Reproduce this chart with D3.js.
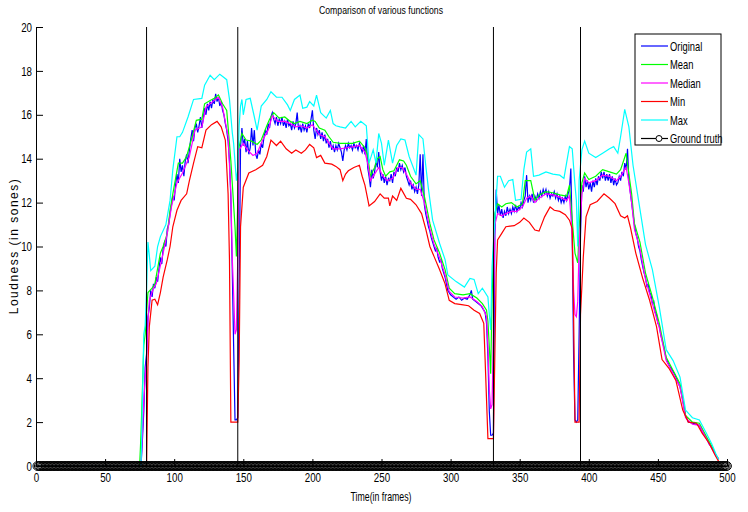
<!DOCTYPE html>
<html>
<head>
<meta charset="utf-8">
<script src="https://cdn.jsdelivr.net/npm/d3@7"></script>
<style>
body { margin: 0; background: #fff; }
svg text { font-family: "Liberation Sans Narrow", "Liberation Sans", Arial, sans-serif; fill: #000; }
</style>
</head>
<body>
<svg width="748" height="512"></svg>
<script>
// ticks
const frameTicks = [0, 50, 100, 150, 200, 250, 300, 350, 400, 450, 500];
const loudTicks = [0, 2, 4, 6, 8, 10, 12, 14, 16, 18, 20];

// boundaries of the ground truth (frames)
const groundTruthFrames = [80, 146, 331, 394];
const totalFrames = 500;

// series, [frame, loudness]
const original = [[1,0],[76,0],[77,1.2],[78,2.5],[79,4.5],[80,5.1],[81,6.8],[82,7.2],[83,8.0],[84,7.7],[85,8.3],[86,8.1],[87,8.6],[88,8.4],[89,9.0],[90,9.5],[91,9.2],[92,9.9],[93,10.2],[94,10.0],[95,10.8],[96,11.0],[97,11.5],[98,11.9],[99,12.3],[100,12.1],[101,12.8],[102,13.3],[103,12.9],[104,14.0],[105,13.4],[106,13.7],[107,13.2],[108,13.9],[109,14.2],[110,13.8],[111,14.4],[112,14.9],[113,15.3],[114,14.8],[115,15.4],[116,15.6],[117,15.2],[118,15.5],[119,15.9],[120,15.4],[121,15.8],[122,16.3],[123,16.0],[124,16.5],[125,16.2],[126,16.6],[127,16.3],[128,16.7],[129,16.5],[130,16.95],[131,16.6],[132,16.8],[133,16.4],[134,16.6],[135,16.2],[136,16.0],[137,15.6],[138,15.3],[139,14.8],[140,13.9],[141,12.2],[142,9.0],[143,5.5],[144,2.1],[145,2.1],[146,2.2],[147,8],[148,14.5],[149,15.4],[150,14.6],[151,14.9],[152,14.3],[153,14.8],[154,14.2],[155,14.5],[156,15.4],[157,14.6],[158,15.3],[159,14.2],[160,14.0],[161,14.4],[162,14.2],[163,14.7],[164,14.5],[165,15.0],[166,15.3],[167,15.1],[168,15.6],[169,15.4],[170,15.9],[171,16.1],[172,15.8],[173,15.6],[174,15.9],[175,15.5],[176,15.8],[177,15.6],[178,15.9],[179,15.5],[180,15.7],[181,15.4],[182,15.8],[183,15.5],[184,15.6],[185,15.3],[186,15.7],[187,15.4],[188,15.6],[189,16.1],[190,15.3],[191,15.5],[192,15.2],[193,15.6],[194,15.3],[195,15.5],[196,15.2],[197,15.6],[198,15.4],[199,15.8],[200,16.2],[201,15.3],[202,14.9],[203,15.4],[204,15.1],[205,15.3],[206,14.9],[207,15.2],[208,14.8],[209,15.1],[210,14.7],[211,14.9],[212,14.5],[213,14.8],[214,14.4],[215,14.6],[216,14.3],[217,14.6],[218,14.4],[219,14.7],[220,14.5],[221,14.3],[222,13.9],[223,14.4],[224,14.6],[225,14.4],[226,14.7],[227,14.5],[228,14.6],[229,14.4],[230,14.7],[231,14.5],[232,14.6],[233,14.4],[234,14.7],[235,14.5],[236,14.3],[237,14.6],[238,14.2],[239,14.9],[240,13.6],[241,13.2],[242,12.7],[243,13.5],[244,13.1],[245,13.4],[246,13.9],[247,13.6],[248,14.3],[249,13.4],[250,13.0],[251,13.3],[252,12.9],[253,13.2],[254,12.8],[255,13.1],[256,13.0],[257,13.3],[258,12.9],[259,13.4],[260,13.2],[261,13.6],[262,13.4],[263,13.8],[264,13.5],[265,13.7],[266,13.4],[267,13.6],[268,13.2],[269,13.0],[270,12.8],[271,13.0],[272,12.6],[273,12.8],[274,12.5],[275,12.7],[276,12.4],[277,12.8],[278,14.2],[279,12.3],[280,14.2],[281,11.9],[282,11.5],[283,11.2],[284,10.9],[285,10.7],[286,10.4],[287,10.2],[288,10.0],[289,9.8],[290,9.9],[291,9.5],[292,9.3],[293,9.4],[294,9.0],[295,8.8],[296,8.6],[297,8.3],[298,8.0],[299,7.9],[300,7.8],[302,7.7],[304,7.6],[306,7.7],[308,7.55],[310,7.65],[312,7.6],[314,7.8],[315,8.0],[316,7.6],[318,7.5],[320,7.4],[322,7.3],[324,7.1],[325,7.0],[326,6.5],[327,5.0],[328,2.5],[329,1.4],[330,1.4],[331,1.5],[332,10.5],[333,12.6],[334,11.5],[335,11.9],[336,11.4],[337,11.7],[338,11.3],[339,11.6],[340,11.4],[341,11.8],[342,11.5],[343,11.7],[344,11.5],[345,11.8],[346,11.6],[347,11.9],[348,11.6],[349,11.8],[350,11.7],[351,12.0],[352,11.8],[353,12.1],[354,12.3],[355,13.25],[356,12.0],[357,12.3],[358,12.1],[359,12.4],[360,12.0],[361,12.3],[362,12.1],[363,12.4],[364,12.2],[365,12.5],[366,12.3],[367,12.6],[368,12.4],[369,12.6],[370,12.3],[371,12.5],[372,12.2],[373,12.4],[374,12.3],[375,12.5],[376,12.2],[377,12.4],[378,12.1],[379,12.3],[380,12.0],[381,12.2],[382,12.0],[383,12.3],[384,12.1],[385,12.4],[386,12.6],[387,13.55],[388,10.5],[389,5.0],[390,2.1],[391,2.0],[392,2.1],[393,6.0],[394,10.5],[395,12.8],[396,12.5],[397,13.2],[398,12.7],[399,13.0],[400,12.6],[401,12.9],[402,12.5],[403,13.0],[404,12.7],[405,13.1],[406,12.8],[407,13.2],[408,13.0],[409,13.4],[410,13.1],[411,13.4],[412,13.0],[413,13.3],[414,13.0],[415,13.3],[416,12.9],[417,13.2],[418,12.8],[419,13.1],[420,12.8],[421,12.9],[422,13.2],[423,13.0],[424,13.4],[425,13.2],[426,13.8],[427,13.5],[428,14.45],[429,13.0],[430,12.5],[431,12.0],[432,11.5],[433,11.0],[434,10.6],[435,10.4],[436,10.0],[437,9.8],[438,9.4],[439,9.1],[440,8.8],[441,8.6],[442,8.2],[443,8.3],[444,7.9],[445,7.8],[446,7.4],[447,7.5],[448,7.0],[449,6.9],[450,6.5],[451,6.4],[452,6.0],[454,5.5],[456,4.9],[458,4.6],[460,4.4],[462,4.2],[464,3.9],[466,3.6],[468,3.0],[470,2.3],[472,2.0],[475,1.95],[478,1.9],[480,1.85],[482,1.6],[485,1.3],[487,1.0],[489,0.85],[491,0.6],[493,0.4],[494,0.3]];

const mean = [[1,0],[75,0],[76,1.5],[77,3.5],[78,5.5],[79,6],[80,7],[81,7.9],[84,8.1],[86,8.3],[90,9.7],[92,10.0],[95,10.6],[97,11.65],[99,12.4],[103,13.8],[106,13.8],[109,14.1],[113,15.0],[116,15.75],[120,15.8],[122,16.5],[126,16.65],[129,16.75],[132,16.9],[135,16.5],[138,16.2],[139,15.45],[141,13.9],[144,10.9],[145,9.55],[146,12.1],[147,14.55],[149,15.15],[152,14.85],[156,14.8],[160,14.65],[163,14.85],[167,15.5],[169,15.8],[172,16.1],[176,15.85],[180,15.9],[184,15.7],[187,15.6],[191,15.7],[196,15.6],[200,15.75],[202,15.7],[205,15.4],[209,15.3],[212,15.0],[215,14.75],[220,14.7],[225,14.7],[229,14.7],[234,14.8],[238,14.5],[240,14.15],[242,13.2],[245,13.6],[247,14.0],[249,14.1],[251,13.5],[253,13.2],[256,13.4],[259,13.45],[263,13.95],[266,13.9],[268,13.7],[271,13.2],[275,12.85],[278,13.0],[281,12.3],[285,11.05],[288,10.3],[292,9.7],[296,8.95],[299,8.1],[303,7.85],[309,7.8],[314,7.85],[319,7.65],[323,7.4],[326,7.1],[327,6.6],[328,5.45],[329,4.2],[330,7.7],[332,11.5],[334,11.95],[337,11.8],[340,11.95],[344,12.0],[348,11.8],[352,11.95],[354,13.0],[358,13.0],[361,12.1],[364,12.35],[369,12.5],[374,12.45],[379,12.35],[384,12.3],[386,12.8],[388,11.2],[390,9.7],[392,9.25],[393,10.75],[395,12.9],[397,13.35],[400,13.05],[405,13.2],[410,13.5],[415,13.4],[420,13.3],[423,13.5],[427,14.25],[429,13.3],[431,12.4],[433,11.05],[437,10.2],[441,8.8],[446,7.7],[451,6.5],[456,4.95],[461,4.35],[466,3.75],[470,2.3],[475,2.0],[480,1.95],[485,1.35],[489,0.9],[492,0.5],[494,0.3]];

const median = [[1,0],[76,0],[77,1.5],[78,3],[79,4],[80,4.8],[81,6.5],[82,7.55],[85,8.1],[87,8.3],[91,9.4],[95,10.6],[98,11.8],[102,12.9],[106,13.35],[111,14.1],[115,15.3],[120,15.45],[123,16.35],[128,16.6],[132,16.8],[135,16.35],[139,15.0],[141,12.4],[142,9.5],[143,7.85],[144,6.0],[145,6.2],[146,9.5],[147,14.4],[150,14.7],[153,14.4],[157,14.15],[160,14.25],[164,14.85],[168,15.3],[171,15.95],[175,15.7],[180,15.7],[184,15.6],[188,15.45],[192,15.5],[196,15.4],[200,15.55],[205,15.1],[209,15.0],[212,14.7],[215,14.45],[220,14.45],[225,14.5],[230,14.55],[234,14.6],[238,14.3],[240,13.8],[242,13.0],[245,13.3],[248,13.6],[251,13.2],[254,13.0],[258,13.1],[262,13.6],[265,13.6],[268,13.3],[271,12.9],[275,12.6],[278,12.6],[281,12.0],[285,10.8],[288,10.1],[292,9.5],[296,8.7],[299,7.95],[303,7.7],[309,7.65],[314,7.7],[319,7.5],[323,7.25],[326,6.8],[327,5.5],[328,3.5],[329,2.6],[330,2.8],[331,6],[332,11.0],[334,11.5],[337,11.4],[340,11.5],[344,11.6],[348,11.6],[352,11.8],[355,12.2],[358,12.3],[361,12.0],[364,12.2],[369,12.4],[374,12.35],[379,12.25],[384,12.1],[386,12.3],[388,10.5],[389,8.0],[390,6.9],[391,6.8],[392,7.5],[393,10.0],[395,12.4],[397,13.1],[400,12.9],[405,13.0],[410,13.25],[415,13.2],[420,13.0],[423,13.2],[427,13.6],[429,12.9],[431,12.0],[433,10.8],[437,9.9],[441,8.5],[446,7.4],[451,6.3],[456,4.8],[461,4.2],[466,3.6],[470,2.2],[475,1.9],[480,1.85],[485,1.25],[489,0.8],[492,0.45],[494,0.3]];

const minimum = [[1,0],[80,0],[81,4.5],[82,6.35],[84,7.55],[86,7.6],[88,7.35],[90,7.9],[92,8.6],[95,9.4],[97,10.0],[99,10.9],[102,11.65],[105,12.1],[109,12.4],[111,13.0],[114,13.8],[117,14.55],[120,14.5],[123,15.3],[127,15.55],[131,15.7],[134,15.45],[137,14.85],[139,12.4],[140,9.4],[141,2.0],[146,2.0],[147,4.8],[148,10.9],[150,12.7],[154,13.35],[159,13.5],[164,13.7],[167,14.1],[170,14.85],[174,14.6],[177,14.8],[181,14.45],[185,14.25],[188,14.4],[192,14.25],[195,14.4],[198,14.65],[201,14.5],[203,14.05],[206,14.15],[209,13.8],[214,13.75],[217,13.65],[220,13.5],[222,13.0],[224,13.3],[226,13.45],[230,13.6],[234,13.7],[236,13.2],[238,12.8],[241,11.85],[245,12.05],[249,12.4],[252,12.2],[255,12.2],[256,11.85],[258,12.3],[261,12.1],[264,12.65],[268,12.2],[271,12.15],[275,11.9],[279,11.5],[282,10.8],[285,10.0],[288,9.55],[292,8.95],[296,8.3],[299,7.55],[303,7.4],[308,7.35],[313,7.3],[317,7.1],[321,6.95],[324,6.5],[325,4.8],[327,1.25],[331,1.25],[333,8.8],[334,10.3],[337,10.6],[340,10.9],[346,10.95],[350,11.1],[353,11.3],[357,11.1],[361,10.75],[364,10.7],[368,11.35],[372,11.8],[375,11.65],[379,11.6],[383,11.45],[386,11.2],[388,10.8],[389,6.9],[390,2.0],[393,2.0],[394,6.9],[396,9.5],[398,11.35],[401,11.9],[406,12.05],[411,12.4],[415,12.2],[419,11.95],[423,11.4],[426,11.3],[428,11.4],[430,10.9],[434,9.7],[439,8.55],[444,7.55],[449,6.35],[453,4.85],[458,4.45],[463,3.9],[468,2.55],[472,2.0],[478,1.95],[482,1.5],[487,1.05],[491,0.55],[494,0.2]];

const maximum = [[1,0],[76,0],[77,3],[78,6],[79,6.4],[80,8],[81,10.2],[82,9.6],[83,8.9],[86,9.1],[88,10],[90,10.45],[94,11.0],[97,12.1],[99,13.5],[102,15.0],[104,15.0],[106,15.2],[110,15.9],[114,16.7],[120,16.75],[122,17.35],[126,17.8],[129,17.6],[133,17.85],[136,17.7],[138,17.6],[140,16.7],[142,15.2],[143,14.7],[145,13.0],[146,13.5],[147,15.5],[148,16.4],[149,16.7],[150,16.0],[152,16.7],[155,16.75],[158,15.9],[160,15.3],[163,16.4],[167,16.7],[170,17.05],[174,16.8],[178,16.8],[182,16.45],[184,16.2],[187,16.7],[191,16.9],[193,16.3],[196,16.35],[198,16.6],[201,16.4],[203,16.9],[206,16.1],[210,15.85],[213,16.2],[215,15.6],[217,15.5],[220,15.45],[224,15.4],[228,15.7],[231,15.45],[235,15.7],[239,15.5],[241,13.8],[244,14.4],[246,13.8],[248,15.15],[250,14.7],[252,13.7],[255,14.85],[258,13.8],[261,14.6],[264,14.9],[267,14.85],[270,14.1],[273,13.6],[275,13.25],[277,15.1],[280,14.9],[282,13.7],[284,12.6],[287,11.2],[292,10.15],[296,9.4],[298,8.7],[304,8.4],[310,8.15],[314,8.55],[317,8.5],[320,7.85],[323,8.1],[327,7.7],[328,6.9],[329,6.2],[330,9.1],[332,11.2],[334,13.2],[336,13.2],[339,12.7],[342,13.0],[345,13.05],[347,12.1],[351,12.15],[353,13.5],[355,14.3],[358,14.45],[360,13.2],[364,13.25],[369,13.4],[374,13.3],[379,13.25],[382,13.1],[385,14.2],[386,14.55],[388,14.45],[390,12.8],[391,12.1],[392,10.0],[393,13.0],[395,14.4],[397,14.8],[400,14.25],[405,14.05],[410,14.25],[415,14.45],[418,14.55],[421,14.25],[423,15.0],[426,16.25],[429,15.45],[432,13.7],[437,11.7],[441,10.1],[446,8.95],[451,7.25],[456,5.3],[461,4.8],[466,4.05],[470,2.55],[475,2.2],[480,2.1],[485,1.5],[489,1.0],[492,0.55],[494,0.3]];

const seriesNames = ['Original', 'Mean', 'Median', 'Min', 'Max'];
const seriesData = [original, mean, median, minimum, maximum];
const seriesColors = ['#0000ff', '#00ff00', '#ff00ff', '#ff0000', '#00ffff'];

const svg = d3.select('svg');

const xScale = d3.scaleLinear()
    .domain([0, 500])
    .range([36, 727]);
const yScale = d3.scaleLinear()
    .domain([0, 20])
    .range([466, 27]);

const line = d3.line()
    .x(d => xScale(d[0]))
    .y(d => yScale(d[1]));

// the reference uses a narrow face, squeeze the text to match
function squeeze(sel, factor) {
    sel.each(function () {
        const w = this.getComputedTextLength();
        d3.select(this)
            .attr('textLength', w * factor)
            .attr('lengthAdjust', 'spacingAndGlyphs');
    });
}

// curves
svg.selectAll('.series')
    .data(seriesData)
    .enter()
    .append('path')
    .classed('series', true)
    .attr('d', d => line(d))
    .attr('fill', 'none')
    .attr('stroke', (d, i) => seriesColors[i])
    .attr('stroke-width', 1.2);

// ground truth: zero everywhere, 20 at the boundaries
const gtFrames = d3.range(1, totalFrames + 1);
svg.selectAll('.gt-line')
    .data(groundTruthFrames)
    .enter()
    .append('line')
    .attr('x1', d => xScale(d)).attr('x2', d => xScale(d))
    .attr('y1', yScale(0)).attr('y2', yScale(20))
    .attr('stroke', '#000')
    .attr('stroke-width', 1);

svg.append('line')
    .attr('x1', xScale(1)).attr('x2', xScale(totalFrames))
    .attr('y1', yScale(0)).attr('y2', yScale(0))
    .attr('stroke', '#000');

svg.selectAll('.gt-mark')
    .data(gtFrames)
    .enter()
    .append('circle')
    .attr('cx', d => xScale(d))
    .attr('cy', yScale(0))
    .attr('r', 4.4)
    .attr('fill', 'none')
    .attr('stroke', '#000')
    .attr('stroke-width', 1);

// axes
const xAxis = d3.axisBottom(xScale)
    .tickValues(frameTicks)
    .tickSizeInner(-7)
    .tickSizeOuter(0)
    .tickPadding(7);
const yAxis = d3.axisLeft(yScale)
    .tickValues(loudTicks)
    .tickSizeInner(-7)
    .tickSizeOuter(0)
    .tickPadding(4);

svg.append('g')
    .attr('transform', `translate(0,${yScale(0)})`)
    .call(xAxis)
    .call(g => g.selectAll('text').style('font-size', '13px').call(squeeze, 0.75));
svg.append('g')
    .attr('transform', `translate(${xScale(0)},0)`)
    .call(yAxis)
    .call(g => g.selectAll('text').style('font-size', '13px').call(squeeze, 0.75));
svg.selectAll('.domain, .tick line').attr('stroke', '#000');

// texts
svg.append('text')
    .attr('x', 381).attr('y', 14)
    .attr('text-anchor', 'middle')
    .style('font-size', '11px')
    .attr('textLength', 124)
    .attr('lengthAdjust', 'spacingAndGlyphs')
    .text('Comparison of various functions');

svg.append('text')
    .attr('x', 381).attr('y', 501)
    .attr('text-anchor', 'middle')
    .style('font-size', '13px')
    .attr('textLength', 61)
    .attr('lengthAdjust', 'spacingAndGlyphs')
    .text('Time(in frames)');

svg.append('text')
    .attr('transform', 'translate(18,246) rotate(-90)')
    .attr('text-anchor', 'middle')
    .style('font-size', '12px')
    .style('letter-spacing', '1.5px')
    .text('Loudness (in sones)');

// legend
const legend = svg.append('g').attr('transform', 'translate(635,34)');
legend.append('rect')
    .attr('width', 86).attr('height', 111)
    .attr('fill', '#fff')
    .attr('stroke', '#000');

const legendItems = seriesNames.concat(['Ground truth']);
const legendColors = seriesColors.concat(['#000']);
const rows = legend.selectAll('.row')
    .data(legendItems)
    .enter()
    .append('g')
    .attr('transform', (d, i) => `translate(0,${12 + i * 18.5})`);
rows.append('line')
    .attr('x1', 6).attr('x2', 33)
    .attr('stroke', (d, i) => legendColors[i])
    .attr('stroke-width', 1.2);
rows.filter(d => d === 'Ground truth')
    .append('circle')
    .attr('cx', 24).attr('r', 3)
    .attr('fill', '#fff')
    .attr('stroke', '#000');
rows.append('text')
    .attr('x', 35).attr('y', 4.5)
    .style('font-size', '13px')
    .text(d => d)
    .call(squeeze, 0.72);
</script>
</body>
</html>
